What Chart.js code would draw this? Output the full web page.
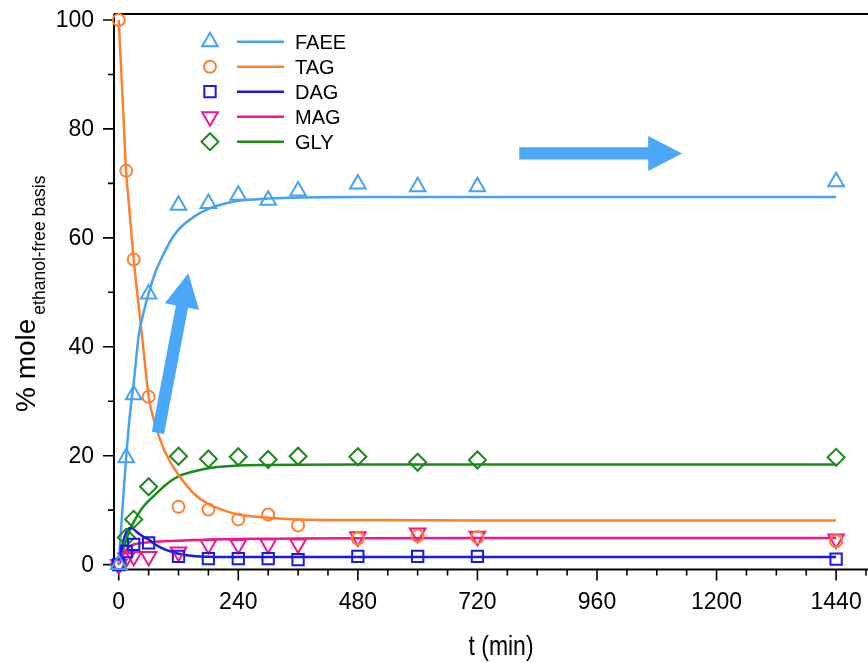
<!DOCTYPE html>
<html>
<head>
<meta charset="utf-8">
<script src="https://cdn.jsdelivr.net/npm/chart.js@4.4.0/dist/chart.umd.min.js"></script>
<style>
  html, body { margin: 0; padding: 0; background: #fff; }
  canvas { display: block; }
</style>
</head>
<body>
<canvas id="chart" width="868" height="663"></canvas>
<script>
// measured samples (min, % mole)
var sampleTimes = [0, 15, 30, 60, 120, 180, 240, 300, 360, 480, 600, 720, 1440];
var faeePts = [0, 19.6, 31.2, 49.7, 66.0, 66.3, 67.8, 66.9, 68.6, 69.9, 69.4, 69.4, 70.3];
var tagPts  = [100, 72.3, 56.0, 30.8, 10.6, 10.1, 8.3, 9.2, 7.2, 4.8, 5.3, 5.0, 4.3];
var dagPts  = [0, 2.4, 3.7, 4.0, 1.5, 1.1, 1.1, 1.1, 0.9, 1.5, 1.5, 1.5, 1.0];
var magPts  = [0, 1.2, 1.5, 1.5, 2.3, 3.7, 3.7, 3.8, 3.8, 5.1, 5.8, 5.2, 4.7];
var glyPts  = [0, 5.0, 8.3, 14.3, 19.9, 19.4, 19.8, 19.3, 19.9, 19.8, 18.8, 19.2, 19.7];

// model curves
var fitTimes = [0, 5, 10, 15, 20, 25, 30, 40, 50, 60, 75, 90, 105, 120, 150, 180, 210, 240, 300, 360, 480, 720, 1080, 1440];
var faeeFit = [0, 7, 13.5, 19.8, 25.3, 29.7, 33.3, 42, 46.3, 49.8, 54, 57, 59.6, 61.5, 63.8, 65.3, 66.2, 66.8, 67.2, 67.4, 67.5, 67.5, 67.5, 67.5];
var tagFit  = [100, 90.7, 81.3, 72, 66.7, 61.3, 56, 47.6, 39.2, 30.8, 25.2, 21.3, 18.6, 16.5, 13.1, 11.1, 10.0, 9.2, 8.6, 8.3, 8.2, 8.1, 8.1, 8.1];
var dagFit  = [0, 2.5, 4.6, 5.9, 6.6, 6.7, 6.5, 5.7, 5.1, 4.6, 3.6, 2.9, 2.4, 2.0, 1.6, 1.45, 1.4, 1.4, 1.4, 1.4, 1.4, 1.4, 1.4, 1.4];
var magFit  = [0, 1.0, 2.0, 2.7, 3.2, 3.5, 3.7, 3.9, 4.0, 4.1, 4.2, 4.3, 4.35, 4.4, 4.5, 4.6, 4.65, 4.7, 4.75, 4.8, 4.85, 4.9, 4.9, 4.9];
var glyFit  = [0, 1.5, 3, 4.5, 5.8, 6.9, 7.8, 9.4, 10.7, 11.7, 13.0, 14.3, 15.4, 16.2, 17.1, 17.7, 18.0, 18.2, 18.3, 18.35, 18.4, 18.4, 18.4, 18.4];

var xTicks = [0, 240, 480, 720, 960, 1200, 1440];
var yTicks = [0, 20, 40, 60, 80, 100];

var FONT = 'Liberation Sans, Arial, Helvetica, sans-serif';

var species = [
  { name: 'FAEE', pts: faeePts, fit: faeeFit, color: '#45a2f2', style: 'triangle', r: 9, rot: 0 },
  { name: 'TAG',  pts: tagPts,  fit: tagFit,  color: '#ff7f2f', style: 'circle',   r: 6, rot: 0 },
  { name: 'DAG',  pts: dagPts,  fit: dagFit,  color: '#1a1ae6', style: 'rect',     r: 8, rot: 0 },
  { name: 'MAG',  pts: magPts,  fit: magFit,  color: '#f2168c', style: 'triangle', r: 9, rot: 180 },
  { name: 'GLY',  pts: glyPts,  fit: glyFit,  color: '#1b8a1b', style: 'rectRot',  r: 8.5, rot: 0 }
];

// arrows in data units (tail -> tip)
var arrows = [
  { from: [78.8, 24.2], to: [139.7, 53.5] },
  { from: [804, 75.5], to: [1131, 75.5] }
];

function pairs(xs, ys) {
  return xs.map(function (x, i) { return { x: x, y: ys[i] }; });
}

var datasets = [];
species.forEach(function (s) {
  datasets.push({
    label: s.name + ' fit',
    data: pairs(fitTimes, s.fit),
    showLine: true,
    borderColor: s.color,
    borderWidth: 2.5,
    pointRadius: 0,
    cubicInterpolationMode: 'monotone',
    order: 2
  });
  datasets.push({
    label: s.name,
    data: pairs(sampleTimes, s.pts),
    showLine: false,
    pointStyle: s.style,
    pointRadius: s.r,
    pointRotation: s.rot,
    pointBorderWidth: 2,
    pointBorderColor: s.color,
    pointBackgroundColor: 'rgba(0,0,0,0)',
    clip: false,
    order: 1
  });
});

var decor = {
  id: 'decor',
  beforeDatasetsDraw: function (chart) {
    var ctx = chart.ctx, a = chart.chartArea;
    var xs = chart.scales.x, ys = chart.scales.y;
    ctx.save();
    ctx.strokeStyle = '#000';
    ctx.lineWidth = 2;
    ctx.beginPath();
    ctx.moveTo(a.left, a.top); ctx.lineTo(a.right, a.top);
    ctx.moveTo(a.left, a.top); ctx.lineTo(a.left, a.bottom);
    ctx.moveTo(a.left - 1, a.bottom); ctx.lineTo(a.right, a.bottom);
    ctx.stroke();
    ctx.lineWidth = 1.6;
    ctx.beginPath();
    for (var v = 0; v <= 100; v += 10) {
      var py = ys.getPixelForValue(v);
      ctx.moveTo(a.left, py);
      ctx.lineTo(a.left - (v % 20 === 0 ? 11 : 6), py);
    }
    for (var t = 0; t <= 1500; t += 60) {
      var px = xs.getPixelForValue(t);
      ctx.moveTo(px, a.bottom);
      ctx.lineTo(px, a.bottom + (t % 240 === 0 ? 11 : 6));
    }
    ctx.stroke();

    // tick labels
    ctx.fillStyle = '#000';
    ctx.font = '23px ' + FONT;
    ctx.textAlign = 'right';
    ctx.textBaseline = 'middle';
    yTicks.forEach(function (v) {
      ctx.fillText(String(v), a.left - 20, ys.getPixelForValue(v) + 1);
    });
    ctx.textAlign = 'center';
    ctx.textBaseline = 'alphabetic';
    xTicks.forEach(function (t) {
      ctx.fillText(String(t), xs.getPixelForValue(t), a.bottom + 39);
    });
    ctx.restore();
  },
  afterDraw: function (chart) {
    var ctx = chart.ctx, a = chart.chartArea;
    var xs = chart.scales.x, ys = chart.scales.y;
    ctx.save();

    // arrows
    ctx.fillStyle = '#4ba8f8';
    arrows.forEach(function (ar) {
      var x0 = xs.getPixelForValue(ar.from[0]), y0 = ys.getPixelForValue(ar.from[1]);
      var x1 = xs.getPixelForValue(ar.to[0]), y1 = ys.getPixelForValue(ar.to[1]);
      var len = Math.hypot(x1 - x0, y1 - y0);
      var ux = (x1 - x0) / len, uy = (y1 - y0) / len;
      var nx = -uy, ny = ux;
      var sw = 6.2, hw = 17.5, hl = 34;
      var bx = x1 - ux * hl, by = y1 - uy * hl;
      ctx.beginPath();
      ctx.moveTo(x0 + nx * sw, y0 + ny * sw);
      ctx.lineTo(bx + nx * sw, by + ny * sw);
      ctx.lineTo(bx + nx * hw, by + ny * hw);
      ctx.lineTo(x1, y1);
      ctx.lineTo(bx - nx * hw, by - ny * hw);
      ctx.lineTo(bx - nx * sw, by - ny * sw);
      ctx.lineTo(x0 - nx * sw, y0 - ny * sw);
      ctx.closePath();
      ctx.fill();
    });

    // legend
    ctx.font = '20px ' + FONT;
    ctx.textAlign = 'left';
    ctx.textBaseline = 'alphabetic';
    species.forEach(function (s, i) {
      var ry = a.top + 27.7 + i * 25;
      ctx.strokeStyle = s.color;
      ctx.fillStyle = 'rgba(0,0,0,0)';
      ctx.lineWidth = 2;
      Chart.helpers.drawPoint(ctx, { pointStyle: s.style, radius: s.r, rotation: s.rot, borderWidth: 2 }, a.left + 96, ry);
      ctx.lineWidth = 2.5;
      ctx.beginPath();
      ctx.moveTo(a.left + 123, ry);
      ctx.lineTo(a.left + 170, ry);
      ctx.stroke();
      ctx.fillStyle = '#000';
      ctx.fillText(s.name, a.left + 181, ry + 7.3);
    });

    // axis titles
    ctx.fillStyle = '#000';
    ctx.save();
    ctx.translate(501, 655);
    ctx.scale(0.82, 1);
    ctx.textAlign = 'center';
    ctx.font = '28px ' + FONT;
    ctx.fillText('t (min)', 0, 0);
    ctx.restore();

    ctx.save();
    ctx.translate(35, 412);
    ctx.rotate(-Math.PI / 2);
    ctx.textAlign = 'left';
    ctx.font = '28px ' + FONT;
    ctx.fillText('% mole', 0, 0);
    var w = ctx.measureText('% mole').width;
    ctx.font = '17.5px ' + FONT;
    ctx.fillText('ethanol-free basis', w + 4, 10);
    ctx.restore();

    ctx.restore();
  }
};

new Chart(document.getElementById('chart').getContext('2d'), {
  type: 'scatter',
  data: { datasets: datasets },
  options: {
    responsive: false,
    animation: false,
    layout: { autoPadding: false, padding: { top: 14, right: 0, left: 0, bottom: 0 } },
    plugins: { legend: { display: false }, tooltip: { enabled: false } },
    scales: {
      x: {
        type: 'linear', min: -9.5, max: 1504,
        grid: { display: false, drawTicks: false },
        border: { display: false },
        ticks: { display: false },
        afterBuildTicks: function (s) { s.ticks = xTicks.map(function (v) { return { value: v }; }); },
        afterFit: function (s) { s.height = 93.5; }
      },
      y: {
        type: 'linear', min: -0.9, max: 101.1,
        grid: { display: false, drawTicks: false },
        border: { display: false },
        ticks: { display: false },
        afterBuildTicks: function (s) { s.ticks = yTicks.map(function (v) { return { value: v }; }); },
        afterFit: function (s) { s.width = 114; }
      }
    }
  },
  plugins: [decor]
});
</script>
</body>
</html>
